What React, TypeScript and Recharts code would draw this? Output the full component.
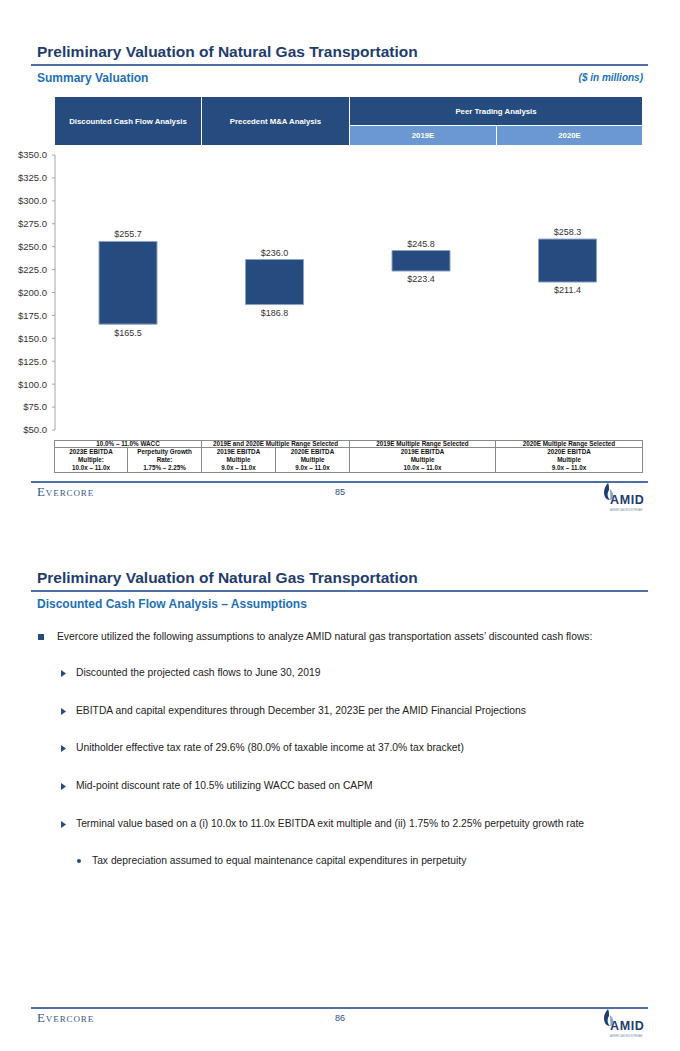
import React from 'react';
import { BarChart, Bar, XAxis, YAxis, LabelList } from 'recharts';

// Summary valuation ranges ($ in millions)
const categories = ['Discounted Cash Flow Analysis', 'Precedent M&A Analysis', 'Peer Trading 2019E', 'Peer Trading 2020E'];
const lows = [165.5, 186.8, 223.4, 211.4];
const highs = [255.7, 236.0, 245.8, 258.3];
const yTicks = [50, 75, 100, 125, 150, 175, 200, 225, 250, 275, 300, 325, 350];

const tableHeads = ['10.0% – 11.0% WACC', '2019E and 2020E Multiple Range Selected', '2019E Multiple Range Selected', '2020E Multiple Range Selected'];
const tableCells = [
    ['2023E EBITDA', 'Multiple:', '10.0x – 11.0x'],
    ['Perpetuity Growth', 'Rate:', '1.75% – 2.25%'],
    ['2019E EBITDA', 'Multiple', '9.0x – 11.0x'],
    ['2020E EBITDA', 'Multiple', '9.0x – 11.0x'],
    ['2019E EBITDA', 'Multiple', '10.0x – 11.0x'],
    ['2020E EBITDA', 'Multiple', '9.0x – 11.0x'],
];

const bullets = [
    { level: 0, text: 'Evercore utilized the following assumptions to analyze AMID natural gas transportation assets’ discounted cash flows:' },
    { level: 1, text: 'Discounted the projected cash flows to June 30, 2019' },
    { level: 1, text: 'EBITDA and capital expenditures through December 31, 2023E per the AMID Financial Projections' },
    { level: 1, text: 'Unitholder effective tax rate of 29.6% (80.0% of taxable income at 37.0% tax bracket)' },
    { level: 1, text: 'Mid-point discount rate of 10.5% utilizing WACC based on CAPM' },
    { level: 1, text: 'Terminal value based on a (i) 10.0x to 11.0x EBITDA exit multiple and (ii) 1.75% to 2.25% perpetuity growth rate' },
    { level: 2, text: 'Tax depreciation assumed to equal maintenance capital expenditures in perpetuity' },
];
const bulletY = [637, 673, 711, 748, 786, 824, 861];

const NAVY = '#264b7e';
const LIGHT = '#6b97d2';
const TITLE = '#1f3c6e';
const SUB = '#1c70b8';
const RULE = '#4d70a6';
const FONT = "'Liberation Sans', Arial, sans-serif";

const money = (v: number) => `$${Number(v).toFixed(1)}`;

const abs = (left: number, top: number, extra: React.CSSProperties = {}): React.CSSProperties => ({
    position: 'absolute',
    left,
    top,
    ...extra,
});

function PageHeader({ top, subtitle, right }: { top: number; subtitle: string; right?: string }) {
    return (
        <>
            <div style={abs(37, top - 10, { fontSize: 15.5, fontWeight: 'bold', color: TITLE, lineHeight: '20px', whiteSpace: 'nowrap' })}>
                Preliminary Valuation of Natural Gas Transportation
            </div>
            <div style={abs(31, top + 12, { width: 617, height: 2, background: RULE })} />
            <div style={abs(37, top + 18, { fontSize: 12, fontWeight: 'bold', color: SUB, lineHeight: '16px', whiteSpace: 'nowrap' })}>
                {subtitle}
            </div>
            {right && (
                <div style={abs(500, top + 18, { width: 143, textAlign: 'right', fontSize: 10, fontWeight: 'bold', fontStyle: 'italic', color: SUB, lineHeight: '16px' })}>
                    {right}
                </div>
            )}
        </>
    );
}

function Footer({ top, page }: { top: number; page: string }) {
    return (
        <>
            <div style={abs(31, top, { width: 617, height: 2, background: RULE })} />
            <div style={abs(37, top + 4, { fontFamily: "'Liberation Serif', serif", fontVariant: 'small-caps', fontSize: 13, color: '#3a5a8e', letterSpacing: 0.9, lineHeight: '14px' })}>
                Evercore
            </div>
            <div style={abs(330, top + 6, { width: 20, textAlign: 'center', fontSize: 9, color: '#2d4d82', lineHeight: '10px' })}>{page}</div>
            <svg style={abs(601, top + 1)} width={50} height={30}>
                <path d="M7 1 C3 6 2 10 4 15 C5 17 7 18 9 18 C6 15 6 11 8 8 C8 5 8 3 7 1 Z" fill={TITLE} />
                <path d="M9 7 C12 10 13 13 11 17 C10 18 9 18 9 18 C10 15 9 11 9 7 Z" fill="#7fa3cf" />
                <text x={9} y={22} fontFamily={FONT} fontWeight="bold" fontSize={12.5} fill={TITLE} letterSpacing={0.6}>AMID</text>
                <text x={9} y={28.5} fontFamily={FONT} fontSize={2.8} fill="#7f8fa8">AMERICAN MIDSTREAM</text>
            </svg>
        </>
    );
}

export default function App() {
    const data = categories.map((name, i) => ({
        name,
        range: [lows[i], highs[i]],
        low: lows[i],
        high: highs[i],
    }));

    const headCell: React.CSSProperties = {
        position: 'absolute',
        display: 'flex',
        alignItems: 'center',
        justifyContent: 'center',
        color: '#fff',
        fontSize: 7.8,
        fontWeight: 'bold',
    };

    const colWidths = [73, 74, 74, 74, 146, 147];

    return (
        <div style={{ position: 'absolute', left: 0, top: 0, width: 680, height: 1051, background: '#fff', fontFamily: FONT, overflow: 'hidden' }}>
            {/* ---------- page 85 ---------- */}
            <PageHeader top={52} subtitle="Summary Valuation" right="($ in millions)" />

            {/* column headers */}
            <div style={{ ...headCell, left: 55, top: 97, width: 146, height: 48, background: NAVY }}>Discounted Cash Flow Analysis</div>
            <div style={{ ...headCell, left: 202, top: 97, width: 147, height: 48, background: NAVY }}>Precedent M&amp;A Analysis</div>
            <div style={{ ...headCell, left: 350, top: 97, width: 292, height: 28, background: NAVY }}>Peer Trading Analysis</div>
            <div style={{ ...headCell, left: 350, top: 126, width: 146, height: 19, background: LIGHT }}>2019E</div>
            <div style={{ ...headCell, left: 497, top: 126, width: 145, height: 19, background: LIGHT }}>2020E</div>

            <div style={abs(0, 140)}>
                <BarChart width={680} height={310} data={data} margin={{ top: 15, right: 39, bottom: 20, left: 0 }}>
                    <XAxis dataKey="name" hide />
                    <YAxis
                        type="number"
                        domain={[50, 350]}
                        ticks={yTicks}
                        interval={0}
                        width={55}
                        tickSize={3}
                        tickMargin={5}
                        axisLine={{ stroke: '#a6a6a6' }}
                        tickLine={{ stroke: '#a6a6a6' }}
                        tick={{ fontSize: 9.5, fill: '#333', fontFamily: FONT }}
                        tickFormatter={money}
                    />
                    <Bar dataKey="range" barSize={58} fill={NAVY} stroke="#8aa3c9" strokeWidth={1} isAnimationActive={false}>
                        <LabelList dataKey="high" position="top" offset={4} formatter={money} fontSize={9} fill="#333" fontFamily={FONT} />
                        <LabelList dataKey="low" position="bottom" offset={5} formatter={money} fontSize={9} fill="#333" fontFamily={FONT} />
                    </Bar>
                </BarChart>
            </div>

            {/* methodology table */}
            <table
                style={{
                    position: 'absolute',
                    left: 54,
                    top: 440,
                    width: 588,
                    borderCollapse: 'collapse',
                    tableLayout: 'fixed',
                    fontSize: 6.3,
                    fontWeight: 'bold',
                    color: '#111',
                    textAlign: 'center',
                }}
            >
                <colgroup>
                    {colWidths.map((w, i) => (
                        <col key={i} style={{ width: w }} />
                    ))}
                </colgroup>
                <tbody>
                    <tr style={{ height: 7 }}>
                        {tableHeads.map((h, i) => (
                            <td key={h} colSpan={i < 2 ? 2 : 1} style={{ border: '1px solid #8a8a8a', padding: 0, lineHeight: '6px' }}>
                                {h}
                            </td>
                        ))}
                    </tr>
                    <tr>
                        {tableCells.map((lines, i) => (
                            <td key={i} style={{ border: '1px solid #8a8a8a', padding: 0, lineHeight: '8px' }}>
                                {lines.map((l, j) => (
                                    <div key={j}>{l}</div>
                                ))}
                            </td>
                        ))}
                    </tr>
                </tbody>
            </table>

            <Footer top={481} page="85" />

            {/* ---------- page 86 ---------- */}
            <PageHeader top={578} subtitle="Discounted Cash Flow Analysis – Assumptions" />

            {bullets.map((b, i) => {
                const y = bulletY[i];
                const textX = b.level === 0 ? 57 : b.level === 1 ? 76 : 92;
                return (
                    <React.Fragment key={i}>
                        {b.level === 0 && <div style={abs(38, y - 3, { width: 6, height: 6, background: NAVY })} />}
                        {b.level === 1 && (
                            <svg style={abs(61, y - 3)} width={6} height={7}>
                                <path d="M0 0 L5 3.5 L0 7 Z" fill={NAVY} />
                            </svg>
                        )}
                        {b.level === 2 && <div style={abs(77, y - 2, { width: 4, height: 4, borderRadius: 2, background: NAVY })} />}
                        <div style={abs(textX, y - 7, { fontSize: 10.3, color: '#222', lineHeight: '14px', whiteSpace: 'nowrap' })}>{b.text}</div>
                    </React.Fragment>
                );
            })}

            <Footer top={1007} page="86" />
        </div>
    );
}
